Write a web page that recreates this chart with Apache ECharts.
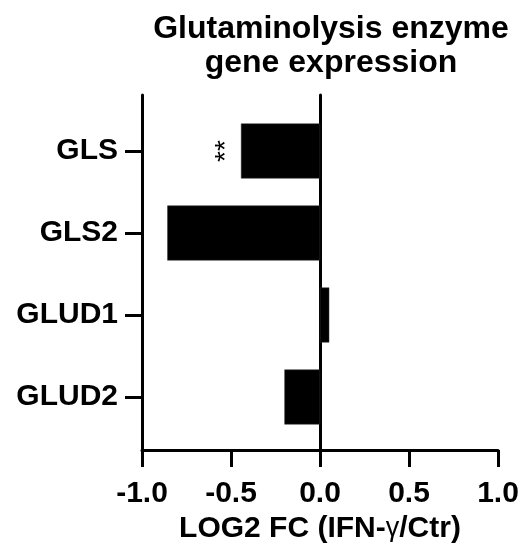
<!DOCTYPE html>
<html>
<head>
<meta charset="utf-8">
<script src="https://cdn.jsdelivr.net/npm/echarts@6/dist/echarts.min.js"></script>
<style>
  html, body { margin: 0; padding: 0; background: #fff; }
  #chart { width: 524px; height: 556px; }
</style>
</head>
<body>
<div id="chart"></div>
<script>
// data
var genes = ['GLS', 'GLS2', 'GLUD1', 'GLUD2'];
var log2fc = [-0.444, -0.858, 0.052, -0.2];
var signif = ['**', '', '', ''];
var xTicks = [-1.0, -0.5, 0.0, 0.5, 1.0];

var font = '"Liberation Sans", Arial, sans-serif';

var chart = echarts.init(document.getElementById('chart'));

var barData = log2fc.map(function (v, i) {
  var item = { value: v };
  if (signif[i]) {
    item.label = {
      show: true,
      formatter: signif[i],
      position: 'left',
      distance: 15,
      rotate: 90,
      align: 'center',
      verticalAlign: 'middle',
      fontFamily: font,
      fontSize: 28,
      color: '#000'
    };
  }
  return item;
});

var option = {
  backgroundColor: '#fff',
  animation: false,
  title: {
    text: 'Glutaminolysis enzyme\ngene expression',
    left: 326,
    top: 7,
    textAlign: 'center',
    textStyle: {
      fontFamily: font,
      fontWeight: 'bold',
      fontSize: 32,
      lineHeight: 34,
      color: '#000'
    }
  },
  grid: [
    // frame: axes and x ticks
    { left: 142, top: 95, width: 356, height: 355 },
    // bars
    { left: 142, top: 110, width: 356, height: 328 },
    // zero line
    { left: 142, top: 95, width: 356, height: 355 }
  ],
  xAxis: [
    {
      gridIndex: 0,
      type: 'value',
      min: xTicks[0],
      max: xTicks[xTicks.length - 1],
      interval: 0.5,
      splitLine: { show: false },
      axisLine: { onZero: false, lineStyle: { color: '#000', width: 3 } },
      axisTick: { show: true, length: 17, lineStyle: { color: '#000', width: 3 } },
      axisLabel: {
        margin: 29,
        fontFamily: font,
        fontWeight: 'bold',
        fontSize: 30,
        color: '#000',
        formatter: function (v) { return v.toFixed(1); }
      },
      name: '{n|LOG2 FC (IFN-}{g|γ}{n|/Ctr)}',
      nameLocation: 'middle',
      nameGap: 57,
      nameTextStyle: {
        rich: {
          n: { fontFamily: font, fontWeight: 'bold', fontSize: 30, color: '#000' },
          g: { fontFamily: font, fontWeight: 'normal', fontSize: 27, color: '#000' }
        }
      }
    },
    {
      gridIndex: 1,
      type: 'value',
      min: xTicks[0],
      max: xTicks[xTicks.length - 1],
      show: false
    },
    {
      gridIndex: 2,
      type: 'value',
      min: xTicks[0],
      max: xTicks[xTicks.length - 1],
      show: false
    }
  ],
  yAxis: [
    {
      gridIndex: 0,
      type: 'value',
      min: 0,
      max: 1,
      splitLine: { show: false },
      axisLine: { show: true, onZero: false, lineStyle: { color: '#000', width: 3 } },
      axisTick: { show: false },
      axisLabel: { show: false }
    },
    {
      gridIndex: 1,
      type: 'category',
      data: genes,
      inverse: true,
      axisLine: { show: false, onZero: false },
      axisTick: { show: true, alignWithLabel: true, length: 17, lineStyle: { color: '#000', width: 3 } },
      axisLabel: {
        margin: 24,
        fontFamily: font,
        fontWeight: 'bold',
        fontSize: 30,
        color: '#000'
      }
    },
    {
      gridIndex: 2,
      type: 'value',
      min: 0,
      max: 1,
      splitLine: { show: false },
      axisLine: { show: true, onZero: true, lineStyle: { color: '#000', width: 3 } },
      axisTick: { show: false },
      axisLabel: { show: false }
    }
  ],
  series: [
    {
      type: 'bar',
      xAxisIndex: 1,
      yAxisIndex: 1,
      data: barData,
      barWidth: 55,
      itemStyle: { color: '#000', borderColor: '#333', borderWidth: 0.5 }
    }
  ]
};

chart.setOption(option);
</script>
</body>
</html>
